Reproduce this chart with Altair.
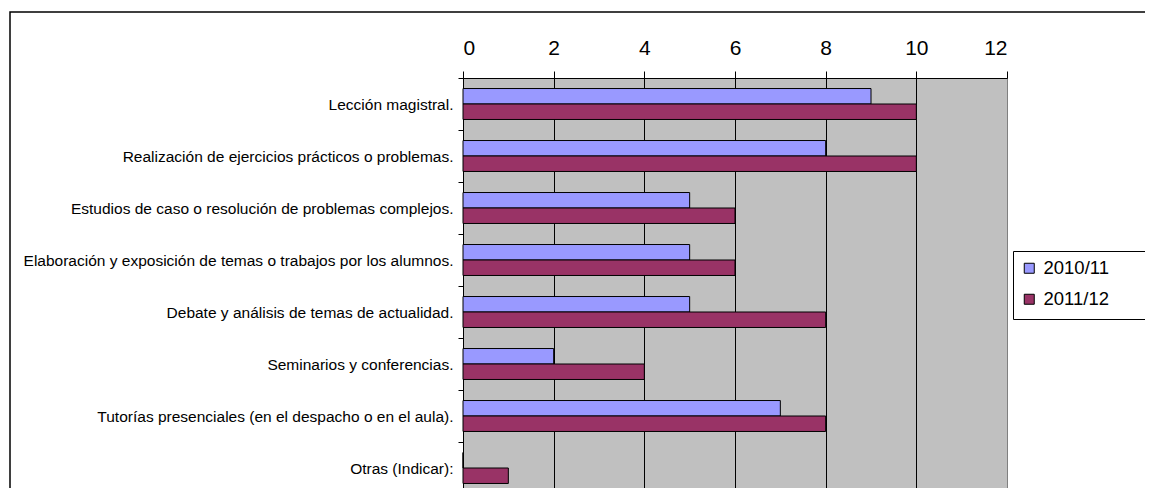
import altair as alt
import pandas as pd

# ---- data ----
categories = [
    "Lección magistral.",
    "Realización de ejercicios prácticos o problemas.",
    "Estudios de caso o resolución de problemas complejos.",
    "Elaboración y exposición de temas o trabajos por los alumnos.",
    "Debate y análisis de temas de actualidad.",
    "Seminarios y conferencias.",
    "Tutorías presenciales (en el despacho o en el aula).",
    "Otras (Indicar):",
]
series = ["2010/11", "2011/12"]
values_2010_11 = [9, 8, 5, 5, 5, 2, 7, 0]
values_2011_12 = [10, 10, 6, 6, 8, 4, 8, 1]
x_ticks = [0, 2, 4, 6, 8, 10, 12]
colors = ["#9999FF", "#993366"]
title_text = "Gráfico 1: Actividades de enseñanza presencial. Comparativa cursos 2010/11 y 2011/12"

rows = []
for cat, a, b in zip(categories, values_2010_11, values_2011_12):
    rows.append({"actividad": cat, "curso": series[0], "valor": a})
    rows.append({"actividad": cat, "curso": series[1], "valor": b})
df = pd.DataFrame(rows)

FONT = "Liberation Sans"
W, H = 544, 410
LEFT, TOP = 455, 70
TOTAL_W, TOTAL_H = 1137, 480

bars = alt.Chart(df).mark_bar(stroke="black", strokeWidth=1).encode(
    y=alt.Y(
        "actividad:N",
        sort=categories,
        scale=alt.Scale(range=[0, 416], paddingInner=0, paddingOuter=0),
        axis=alt.Axis(
            title=None, orient="left", tickBand="extent", grid=False,
            labelFont=FONT, labelFontSize=15.5, labelColor="black", labelLimit=700,
            tickColor="black", tickSize=5, labelPadding=5,
            domainColor="black", domainWidth=1,
        ),
    ),
    yOffset=alt.YOffset(
        "curso:N", sort=series,
        scale=alt.Scale(paddingInner=0, paddingOuter=0.68),
    ),
    x=alt.X(
        "valor:Q",
        scale=alt.Scale(domain=[0, 12], nice=False, zero=True),
        axis=alt.Axis(
            title=None, orient="top", values=x_ticks, format="d",
            labelFont=FONT, labelFontSize=21, labelColor="black",
            labelBaseline="alphabetic", labelPadding=17,
            tickColor="black", tickSize=7, domainColor="black",
            grid=True,
            gridColor={"condition": {"test": "datum.value === 12", "value": "#808080"}, "value": "black"},
            gridWidth=1,
        ),
    ),
    color=alt.Color(
        "curso:N", sort=series,
        scale=alt.Scale(domain=series, range=colors),
        legend=alt.Legend(
            orient="none", legendX=550, legendY=174, title=None,
            padding=7,
            labelFont=FONT, labelFontSize=18.5, labelColor="black", labelOffset=5,
            symbolType="square", symbolSize=100, symbolStrokeColor="black",
            symbolStrokeWidth=1, symbolOpacity=1, rowPadding=12,
        ),
    ),
)

frame = alt.Chart(pd.DataFrame({"k": [0]})).mark_rect(
    fillOpacity=0, stroke="black", strokeWidth=1.5
).encode(
    x=alt.value(-453), x2=alt.value(800), y=alt.value(-66), y2=alt.value(600)
)

legend_box = alt.Chart(pd.DataFrame({"k": [0]})).mark_rect(
    fill="white", stroke="black", strokeWidth=1
).encode(
    x=alt.value(550.5), x2=alt.value(800), y=alt.value(173.5), y2=alt.value(241.5)
)

title = alt.Chart(pd.DataFrame({"t": [title_text]})).mark_text(
    font=FONT, fontSize=17, color="black", align="center", baseline="alphabetic"
).encode(
    text="t:N", x=alt.value(130), y=alt.value(-76)
)

chart = alt.layer(frame, legend_box, bars, title).properties(
    width=W, height=H,
    autosize=alt.AutoSizeParams(type="none"),
    padding={"left": LEFT, "top": TOP, "right": TOTAL_W - LEFT - W, "bottom": TOTAL_H - TOP - H},
).configure_view(
    fill="#C0C0C0", stroke="#808080", strokeWidth=1
)

chart.save("out.html", embed_options={"renderer": "svg", "actions": False})
